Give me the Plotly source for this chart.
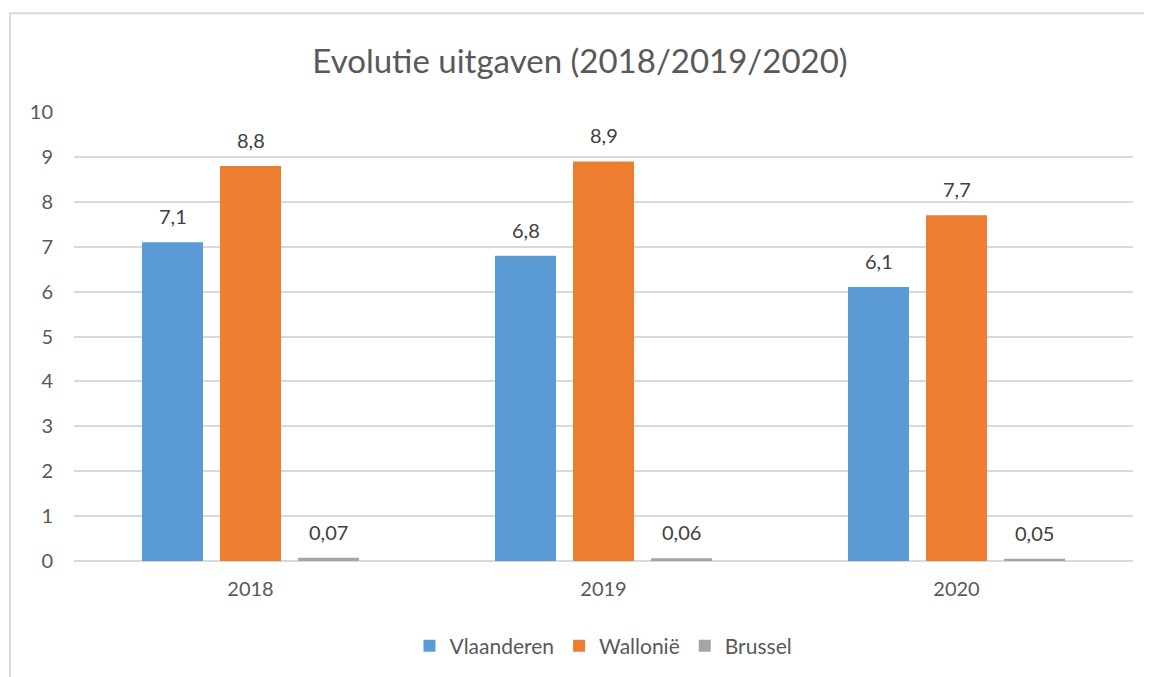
import plotly.graph_objects as go

YEARS = ["2018", "2019", "2020"]
VLAANDEREN = [7.1, 6.8, 6.1]
WALLONIE = [8.8, 8.9, 7.7]
BRUSSEL = [0.07, 0.06, 0.05]

SERIES = [
    ("Vlaanderen", VLAANDEREN, "#5b9bd5"),
    ("Wallonië", WALLONIE, "#ed7d31"),
    ("Brussel", BRUSSEL, "#a5a5a5"),
]

FONT = "Lato, 'Open Sans', sans-serif"
BAR_PITCH = 78  # px between bar centres inside a group


def _label(v):
    return f"{v:g}".replace(".", ",")


fig = go.Figure()
labels = []
for i, (name, vals, color) in enumerate(SERIES):
    fig.add_trace(go.Bar(
        x=YEARS, y=vals, name=name,
        marker=dict(color=color, line_width=0),
    ))
    # value labels sit a bit higher above the bars than plotly's "outside" text;
    # numeric-looking category names must be given to annotations by serial index
    for j, v in enumerate(vals):
        labels.append(dict(
            x=j, y=v, xref="x", yref="y", text=_label(v), showarrow=False,
            xshift=(i - 1) * BAR_PITCH, yshift=12, yanchor="bottom",
            font=dict(size=20, color="#404040", family=FONT),
        ))

fig.update_layout(
    width=1144, height=669,
    template="plotly_white",
    font=dict(family=FONT, size=20, color="#595959"),
    title=dict(text="Evolutie uitgaven (2018/2019/2020)", x=0.5, xanchor="center",
               y=0.92, yanchor="middle", font=dict(size=33, color="#595959")),
    barmode="group", bargap=0.337, bargroupgap=0.218,
    margin=dict(l=66, r=19, t=104, b=115),
    plot_bgcolor="white", paper_bgcolor="white",
    showlegend=True,
    legend=dict(orientation="h", x=0.5, xanchor="center", y=-0.187, yanchor="middle",
                font=dict(size=21, color="#595959"), traceorder="normal"),
    xaxis=dict(type="category", showgrid=False, showline=False, ticks="",
               tickfont=dict(size=20), ticklabelstandoff=14),
    yaxis=dict(range=[0, 10], dtick=1, showgrid=True, gridcolor="#d9d9d9", gridwidth=1.5,
               zeroline=True, zerolinecolor="#d9d9d9", zerolinewidth=1.5,
               showline=False, ticks="", tickfont=dict(size=20), ticklabelstandoff=20),
    annotations=labels,
    shapes=[dict(type="rect", xref="paper", yref="paper",
                 x0=-0.0604, x1=1.1, y0=-0.3, y1=1.22,
                 line=dict(color="#d9d9d9", width=2), fillcolor="rgba(0,0,0,0)",
                 layer="below")],
)

fig.write_html("out.html")
